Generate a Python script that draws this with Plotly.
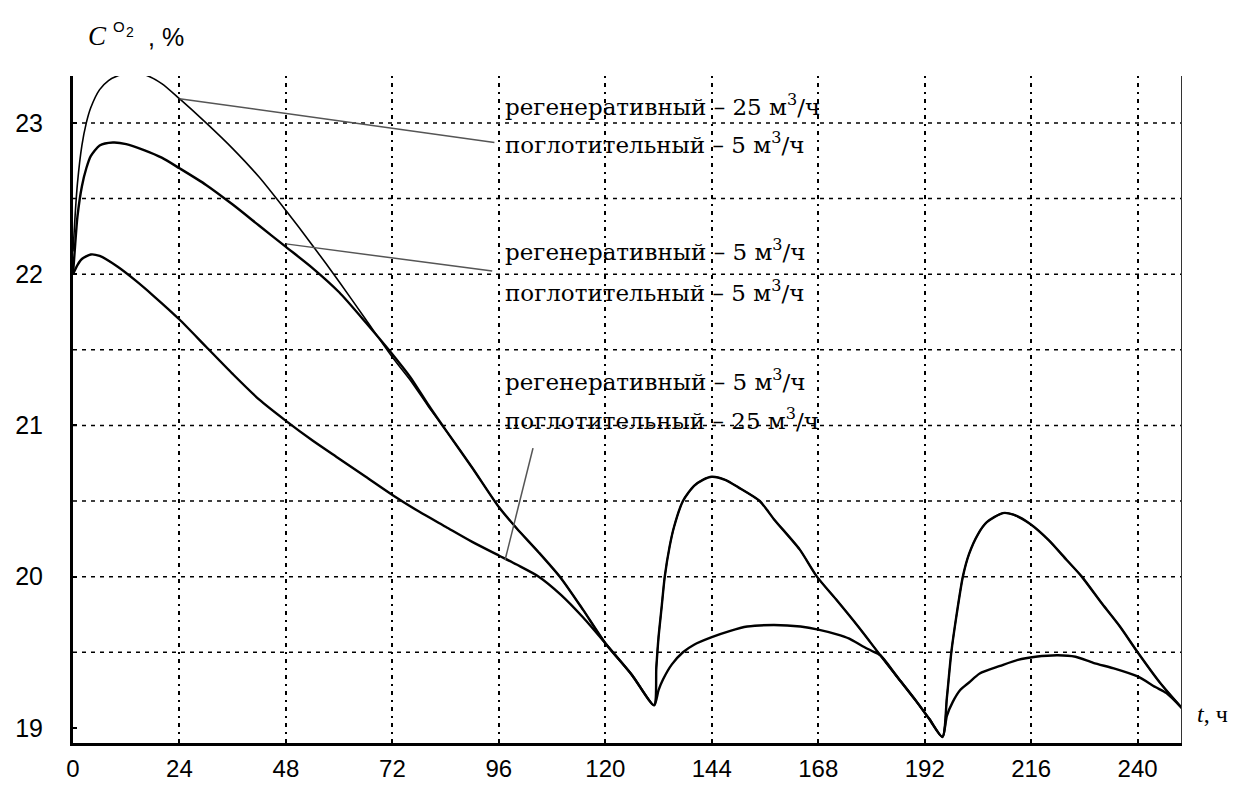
import plotly.graph_objects as go

# --- data -------------------------------------------------------------
# regenerative 25 m3/h, absorption 5 m3/h
t_a = [0, 0.5, 1, 2, 3, 4, 6, 8, 10, 13, 16, 20, 24, 30, 36, 42, 48, 54, 60, 66,
       72, 76, 80, 84, 90, 96, 100, 105, 110, 115, 120, 126, 131,
       131.5, 132, 132.7, 133.4, 134.5, 135.5, 137.5, 140, 142, 144, 147, 150,
       154.8, 158, 163.8, 167.7, 172, 177, 182, 186, 190, 193, 196,
       197, 198, 199.2, 200.6, 202, 204, 206, 209.6, 212, 215.7, 220, 224,
       227.4, 232, 236, 240, 245, 250]
c_a = [22.15, 22.4, 22.6, 22.85, 23.0, 23.1, 23.22, 23.28, 23.31, 23.33, 23.32, 23.26,
       23.16, 23.0, 22.83, 22.64, 22.42, 22.19, 21.95, 21.7,
       21.45, 21.3, 21.13, 20.97, 20.72, 20.46, 20.32, 20.16, 19.99, 19.78, 19.56,
       19.35, 19.15,
       19.4, 19.6, 19.8, 20.0, 20.2, 20.33, 20.5, 20.6, 20.64, 20.66, 20.64, 20.59,
       20.5, 20.38, 20.18, 20.0, 19.85, 19.67, 19.48, 19.33, 19.18, 19.06, 18.94,
       19.2, 19.5, 19.75, 20.0, 20.15, 20.28, 20.36, 20.42, 20.41, 20.35, 20.24,
       20.11, 20.0, 19.82, 19.67, 19.5, 19.3, 19.13]

# regenerative 5 m3/h, absorption 5 m3/h
t_b = [0, 0.5, 1, 2, 3, 4, 6, 9, 12, 16, 20, 24, 30, 36, 42, 48, 54, 60, 66, 72,
       76, 80, 84, 90, 96, 100, 105, 110, 115, 120, 126, 131,
       131.5, 132, 132.7, 133.4, 134.5, 135.5, 137.5, 140, 142, 144, 147, 150,
       154.8, 158, 163.8, 167.7, 172, 177, 182, 186, 190, 193, 196,
       197, 198, 199.2, 200.6, 202, 204, 206, 209.6, 212, 215.7, 220, 224,
       227.4, 232, 236, 240, 245, 250]
c_b = [22.0, 22.2, 22.38, 22.58, 22.7, 22.78, 22.85, 22.87, 22.86, 22.82, 22.77, 22.7,
       22.59, 22.46, 22.32, 22.18, 22.04, 21.88, 21.68, 21.47,
       21.32, 21.14, 20.97, 20.72, 20.46, 20.32, 20.16, 19.99, 19.78, 19.56,
       19.35, 19.15,
       19.4, 19.6, 19.8, 20.0, 20.2, 20.33, 20.5, 20.6, 20.64, 20.66, 20.64, 20.59,
       20.5, 20.38, 20.18, 20.0, 19.85, 19.67, 19.48, 19.33, 19.18, 19.06, 18.94,
       19.2, 19.5, 19.75, 20.0, 20.15, 20.28, 20.36, 20.42, 20.41, 20.35, 20.24,
       20.11, 20.0, 19.82, 19.67, 19.5, 19.3, 19.13]

# regenerative 5 m3/h, absorption 25 m3/h
t_c = [0, 1, 2, 4, 6, 10, 14, 18, 24, 30, 36, 42, 48, 54, 60, 66, 72, 78, 84, 90,
       96, 100, 105, 110, 115, 120, 126, 131,
       132, 133, 135, 137.5, 140, 144, 148, 152, 158, 164, 168, 172, 175, 178,
       180, 182, 186, 190, 193, 196,
       197, 198.3, 200, 202, 204.4, 209, 213, 217, 222, 226, 230, 235, 240,
       244, 246.5, 250]
c_c = [22.0, 22.06, 22.1, 22.13, 22.12, 22.05, 21.96, 21.86, 21.7, 21.52, 21.34,
       21.17, 21.03, 20.9, 20.78, 20.66, 20.54, 20.43, 20.33, 20.23,
       20.14, 20.08, 20.0, 19.88, 19.73, 19.56, 19.35, 19.15,
       19.25, 19.32, 19.42, 19.5, 19.55, 19.6, 19.64, 19.67, 19.68, 19.67, 19.65,
       19.62, 19.59, 19.54, 19.51, 19.48, 19.33, 19.18, 19.06, 18.94,
       19.08, 19.17, 19.25, 19.3, 19.36, 19.41, 19.45, 19.47, 19.48, 19.47, 19.43,
       19.39, 19.34, 19.27, 19.23, 19.13]

x_ticks = [0, 24, 48, 72, 96, 120, 144, 168, 192, 216, 240]
y_ticks = [19, 20, 21, 22, 23]
y_grid = [19.5, 20, 20.5, 21, 21.5, 22, 22.5, 23]

labels = [
    ("регенеративный – 25 м<sup>3</sup>/ч", 97, 23.12),
    ("поглотительный – 5 м<sup>3</sup>/ч", 97, 22.87),
    ("регенеративный – 5 м<sup>3</sup>/ч", 97, 22.16),
    ("поглотительный – 5 м<sup>3</sup>/ч", 97, 21.89),
    ("регенеративный – 5 м<sup>3</sup>/ч", 97, 21.30),
    ("поглотительный – 25 м<sup>3</sup>/ч", 97, 21.04),
]
# leader lines: (t_start, c_start, t_end, c_end)
leaders = [
    (24, 23.16, 95, 22.87),
    (48, 22.2, 94.5, 22.02),
    (97.4, 20.11, 103.7, 20.85),
]

X_RANGE = [0, 250]
Y_RANGE = [18.9, 23.31]

# --- figure -----------------------------------------------------------
fig = go.Figure()
for tt, cc, w in [(t_a, c_a, 1.6), (t_b, c_b, 2.4), (t_c, c_c, 2.4)]:
    fig.add_trace(go.Scatter(x=tt, y=cc, mode="lines",
                             line=dict(color="black", width=w, shape="spline",
                                       smoothing=0.7),
                             showlegend=False, hoverinfo="skip"))

shapes = []
for g in y_grid:
    shapes.append(dict(type="line", xref="x", yref="y", x0=X_RANGE[0], x1=X_RANGE[1],
                       y0=g, y1=g, layer="below",
                       line=dict(color="black", width=1.5, dash="4px,5px")))
for x0, y0, x1, y1 in leaders:
    shapes.append(dict(type="line", xref="x", yref="y", x0=x0, y0=y0, x1=x1, y1=y1,
                       line=dict(color="#555555", width=1.5)))
# right frame line
shapes.append(dict(type="line", xref="x", yref="y", x0=X_RANGE[1], x1=X_RANGE[1],
                   y0=Y_RANGE[0], y1=Y_RANGE[1], line=dict(color="#333333", width=2)))

annotations = []
for txt, tx, ty in labels:
    annotations.append(dict(x=tx, y=ty, xref="x", yref="y", text=txt, showarrow=False,
                            xanchor="left", yanchor="middle",
                            font=dict(family="DejaVu Serif", size=23, color="black")))

# y-axis title: C with superscript O2, then unit
def paper_xy(px, py):
    return (px - 73) / 1109, (743 - py) / 667

title_parts = [
    ("<i>C</i>", 86, 36, "Liberation Serif", 27),
    ("O", 111, 27, "Liberation Sans", 15),
    ("2", 124, 32, "Liberation Sans", 14),
    (", %", 146, 37, "Liberation Sans", 25),
]
for txt, px, py, fam, sz in title_parts:
    xp, yp = paper_xy(px, py)
    annotations.append(dict(x=xp, y=yp, xref="paper", yref="paper", text=txt,
                            showarrow=False, xanchor="left", yanchor="middle",
                            font=dict(family=fam, size=sz, color="black")))

xp, yp = paper_xy(1195, 714)
annotations.append(dict(x=xp, y=yp, xref="paper", yref="paper",
                        text="<i>t</i>, ч", showarrow=False,
                        xanchor="left", yanchor="middle",
                        font=dict(family="Liberation Serif", size=24, color="black")))

fig.update_layout(
    width=1237, height=785,
    margin=dict(l=73, r=55, t=76, b=42, autoexpand=False),
    paper_bgcolor="white", plot_bgcolor="white",
    shapes=shapes, annotations=annotations,
    xaxis=dict(range=X_RANGE, tickvals=x_ticks, showgrid=True, automargin=False,
               gridcolor="black", gridwidth=1.5, griddash="2px,5px,4px,5px",
               showline=True, linecolor="black", linewidth=3,
               ticks="inside", ticklen=4, tickwidth=2, tickcolor="black",
               zeroline=False, ticklabelstandoff=2,
               tickfont=dict(family="Liberation Sans", size=24, color="black")),
    yaxis=dict(range=Y_RANGE, tickvals=y_ticks, showgrid=False, automargin=False,
               showline=True, linecolor="black", linewidth=3,
               ticks="inside", ticklen=4, tickwidth=2, tickcolor="black",
               zeroline=False, ticklabelstandoff=22,
               tickfont=dict(family="Liberation Sans", size=25, color="black")),
)

fig.write_html("out.html")
